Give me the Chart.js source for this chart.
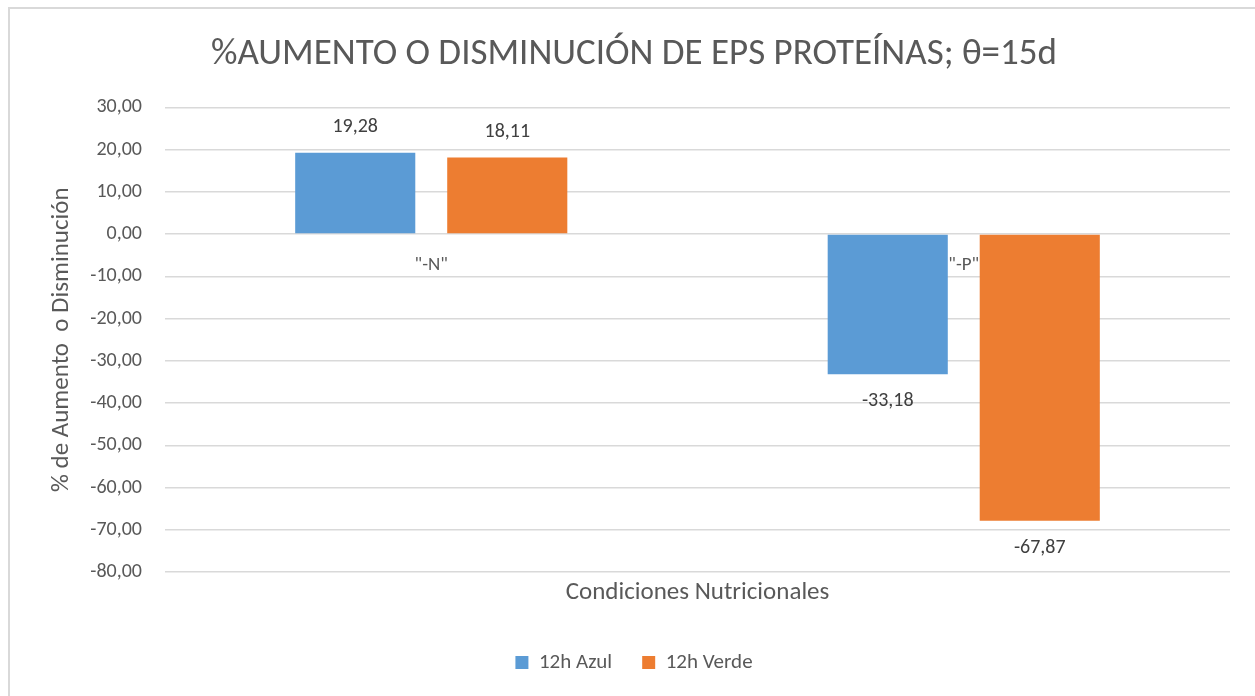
<!DOCTYPE html>
<html>
<head>
<meta charset="utf-8">
<script src="https://cdn.jsdelivr.net/npm/chart.js@4"></script>
<style>
  body { margin: 0; overflow: hidden; background: #fff; }
  #frame { position: absolute; left: 8px; top: 7px; width: 1400px; height: 800px;
           border-top: 2px solid #d9d9d9; border-left: 2px solid #d9d9d9; }
  #wrap { position: absolute; left: 0; top: 0; width: 1270px; height: 696px; }
</style>
</head>
<body>
<div id="frame"></div>
<div id="wrap"><canvas id="chart"></canvas></div>
<script>
const categories = ['"-N"', '"-P"'];
const azul = [19.28, -33.18];
const verde = [18.11, -67.87];
const seriesNames = ["12h Azul", "12h Verde"];

const fmt = v => v.toFixed(2).replace(".", ",");

Chart.defaults.font.family = "Carlito, Lato, 'Liberation Sans', sans-serif";
Chart.defaults.color = "#595959";

// category names sit just under the zero line, like Excel does
const catLabels = {
    id: "catLabels",
    afterDatasetsDraw(chart) {
        const ctx = chart.ctx;
        const x = chart.scales.x, y = chart.scales.y;
        const y0 = y.getPixelForValue(0);
        ctx.save();
        ctx.font = "19px " + Chart.defaults.font.family;
        ctx.fillStyle = "#595959";
        ctx.textAlign = "center";
        ctx.textBaseline = "middle";
        categories.forEach((c, i) => {
            ctx.fillText(c, x.getPixelForValue(i), y0 + 31);
        });
        ctx.restore();
    }
};

// value labels at the end of each bar
const valueLabels = {
    id: "valueLabels",
    afterDatasetsDraw(chart) {
        const ctx = chart.ctx;
        ctx.save();
        ctx.font = "20px " + Chart.defaults.font.family;
        ctx.fillStyle = "#404040";
        ctx.textAlign = "center";
        ctx.textBaseline = "middle";
        chart.data.datasets.forEach((ds, di) => {
            chart.getDatasetMeta(di).data.forEach((bar, i) => {
                const v = ds.data[i];
                const ty = v >= 0 ? bar.y - 26 : bar.y + 27;
                ctx.fillText(fmt(v), bar.x, ty);
            });
        });
        ctx.restore();
    }
};

new Chart(document.getElementById("chart").getContext("2d"), {
    type: "bar",
    data: {
        labels: categories,
        datasets: [{
            label: seriesNames[0],
            data: azul,
            backgroundColor: "#5B9BD5",
            categoryPercentage: 0.571,
            barPercentage: 0.79
        }, {
            label: seriesNames[1],
            data: verde,
            backgroundColor: "#ED7D31",
            categoryPercentage: 0.571,
            barPercentage: 0.79
        }]
    },
    plugins: [catLabels, valueLabels],
    options: {
        responsive: true,
        maintainAspectRatio: false,
        animation: false,
        layout: { padding: { left: 38, right: 40, top: 0, bottom: 13 } },
        plugins: {
            title: {
                display: true,
                text: "%AUMENTO O DISMINUCIÓN DE EPS PROTEÍNAS; θ=15d",
                font: { size: 37, weight: "normal" },
                color: "#595959",
                padding: { top: 33, bottom: 30 }
            },
            legend: {
                position: "bottom",
                labels: { boxWidth: 13, boxHeight: 13, padding: 30, font: { size: 21 }, color: "#595959" }
            },
            tooltip: { enabled: false }
        },
        scales: {
            x: {
                grid: { display: false, drawTicks: false },
                border: { display: false },
                ticks: { display: false },
                title: {
                    display: true,
                    text: "Condiciones Nutricionales",
                    font: { size: 25 },
                    color: "#595959",
                    padding: { top: 6, bottom: 14 }
                }
            },
            y: {
                min: -80,
                max: 30,
                afterFit(scale) { scale.width = 127; },
                grid: { color: "#d9d9d9", lineWidth: 1.5, drawTicks: false },
                border: { display: false },
                ticks: {
                    stepSize: 10,
                    padding: 23,
                    font: { size: 20 },
                    color: "#595959",
                    callback: v => fmt(v)
                },
                title: {
                    display: true,
                    text: "% de Aumento  o Disminución",
                    font: { size: 25 },
                    color: "#595959",
                    padding: { top: 9, bottom: 0 }
                }
            }
        }
    }
});
</script>
</body>
</html>
